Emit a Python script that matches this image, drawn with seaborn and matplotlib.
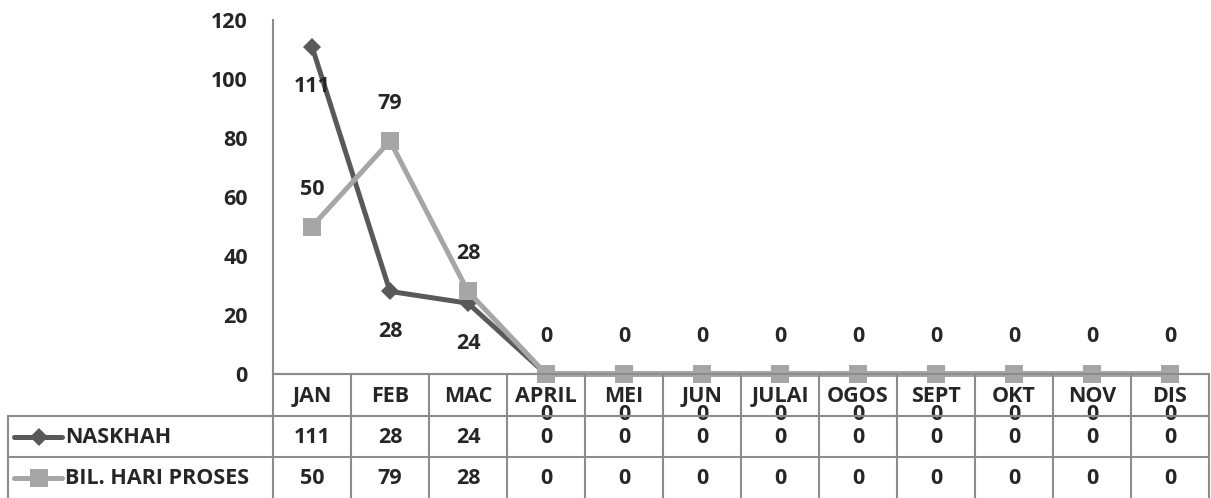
import matplotlib.pyplot as plt
import seaborn as sns
import pandas as pd
import numpy as np
from matplotlib.lines import Line2D

months = ["JAN", "FEB", "MAC", "APRIL", "MEI", "JUN", "JULAI", "OGOS", "SEPT", "OKT", "NOV", "DIS"]
naskhah = [111, 28, 24, 0, 0, 0, 0, 0, 0, 0, 0, 0]
bil_hari = [50, 79, 28, 0, 0, 0, 0, 0, 0, 0, 0, 0]
series_names = ["NASKHAH", "BIL. HARI PROSES"]
y_ticks = [0, 20, 40, 60, 80, 100, 120]

sns.set_theme(style="white")
plt.rcParams["font.family"] = ["Open Sans", "DejaVu Sans"]
plt.rcParams["font.weight"] = "bold"

W, H = 1211, 498
fig = plt.figure(figsize=(W / 100, H / 100), dpi=100)

# plot area in pixel terms
x0, x1 = 273, 1209
y_top, y_base = 20, 374
ax = fig.add_axes([x0 / W, 1 - y_base / H, (x1 - x0) / W, (y_base - y_top) / H])

dark = "#595959"
light = "#a6a6a6"
grid_c = "#8c8c8c"
fs = 15.5

pos = np.arange(len(months))
df = pd.DataFrame({"pos": pos, "NASKHAH": naskhah, "BIL": bil_hari})

sns.lineplot(data=df, x="pos", y="NASKHAH", ax=ax, color=dark, lw=3.6,
             marker="D", markersize=9.5, markeredgewidth=0, zorder=3, clip_on=False)
sns.lineplot(data=df, x="pos", y="BIL", ax=ax, color=light, lw=3.6,
             marker="s", markersize=12.5, markeredgewidth=0, zorder=4, clip_on=False)

for i, v in enumerate(naskhah):
    ax.annotate(str(v), (i, v), xytext=(0, -29), textcoords="offset points",
                ha="center", va="center", fontsize=fs, fontweight="bold", annotation_clip=False, zorder=6)
for i, v in enumerate(bil_hari):
    ax.annotate(str(v), (i, v), xytext=(0, 27), textcoords="offset points",
                ha="center", va="center", fontsize=fs, fontweight="bold", annotation_clip=False, zorder=6)

ax.set_xlim(-0.5, len(months) - 0.5)
ax.set_ylim(0, 120)
ax.set_yticks(y_ticks)
ax.set_yticklabels([str(t) for t in y_ticks], fontsize=fs, fontweight="bold")
ax.tick_params(axis="y", length=0, pad=18)
ax.set_xticks([])
ax.set_xlabel("")
ax.set_ylabel("")
for s in ["top", "right"]:
    ax.spines[s].set_visible(False)
ax.spines["left"].set_color(grid_c)
ax.spines["bottom"].set_color(grid_c)
ax.spines["left"].set_linewidth(1.5)
ax.spines["bottom"].set_linewidth(1.5)

# data table below the plot, sharing x positions
row_edges = [374, 416, 457, 498]
tax = fig.add_axes([x0 / W, 0, (x1 - x0) / W, (H - 374) / H], sharex=ax)
tax.set_ylim(H, 374)
tax.axis("off")
left_x = -0.5 - (x0 - 8) / ((x1 - x0) / len(months))
lk = dict(color=grid_c, lw=1.5, clip_on=False)

for r in row_edges[:-1]:
    tax.plot([-0.5, len(months) - 0.5], [r, r], **lk)
for r in row_edges[1:3]:
    tax.plot([left_x, -0.5], [r, r], **lk)
for k in range(len(months) + 1):
    tax.plot([k - 0.5, k - 0.5], [374, H], **lk)
tax.plot([left_x, left_x], [416, H], **lk)

for i, m in enumerate(months):
    tax.text(i, 396, m, ha="center", va="center", fontsize=fs, fontweight="bold", clip_on=False)
    tax.text(i, 437, str(naskhah[i]), ha="center", va="center", fontsize=fs, fontweight="bold", clip_on=False)
    tax.text(i, 478, str(bil_hari[i]), ha="center", va="center", fontsize=fs, fontweight="bold", clip_on=False)

# legend keys inside the row header cells
unit = (x1 - x0) / len(months)
kx0 = left_x + 6 / unit
kx1 = left_x + 54 / unit
km = left_x + 31 / unit
for (r, name, c, mk, ms) in [(437, series_names[0], dark, "D", 9.5), (478, series_names[1], light, "s", 12.5)]:
    tax.add_line(Line2D([kx0, kx1], [r, r], color=c, lw=3.6, clip_on=False))
    tax.add_line(Line2D([km], [r], color=c, marker=mk, markersize=ms, markeredgewidth=0, clip_on=False))
    tax.text(left_x + 57 / unit, r, name, ha="left", va="center", fontsize=fs, fontweight="bold", clip_on=False)

fig.savefig("out.png", dpi=100)
